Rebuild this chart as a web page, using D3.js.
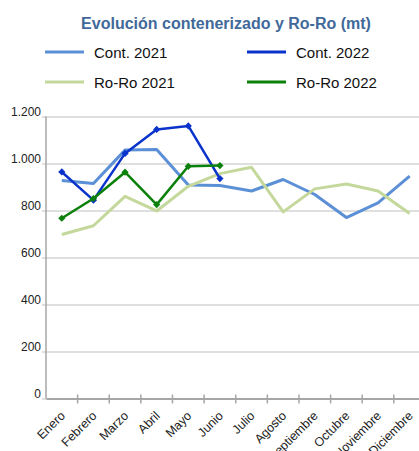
<!DOCTYPE html>
<html>
<head>
<meta charset="utf-8">
<style>
body { margin: 0; padding: 0; background: white; overflow: hidden; }
.tick text { font-family: "Liberation Sans", Arial, sans-serif; font-size: 12px; fill: #222; }
.grid line { stroke: #d4d4d4; stroke-width: 1.5px; }
.grid path { stroke-width: 0; }
</style>
</head>
<body>
<script src="https://cdn.jsdelivr.net/npm/d3@7"></script>
<script>
var months = ["Enero", "Febrero", "Marzo", "Abril", "Mayo", "Junio", "Julio",
    "Agosto", "Septiembre", "Octubre", "Noviembre", "Diciembre"];
var cont2021 = [928, 915, 1057, 1060, 909, 906, 883, 932, 868, 770, 832, 946];
var cont2022 = [964, 844, 1043, 1145, 1160, 936];
var roro2021 = [698, 735, 860, 798, 903, 957, 984, 794, 892, 913, 883, 787];
var roro2022 = [767, 851, 963, 825, 988, 991];
var yTicks = [0, 200, 400, 600, 800, 1000, 1200];

var series = [
    { name: "Cont. 2021", values: cont2021, color: "#5b8fd6", width: 3, marker: false },
    { name: "Ro-Ro 2021", values: roro2021, color: "#c4d89c", width: 3, marker: false },
    { name: "Cont. 2022", values: cont2022, color: "#0a33cc", width: 2.5, marker: true },
    { name: "Ro-Ro 2022", values: roro2022, color: "#0b800b", width: 2.5, marker: true }
];

var W = 419, H = 451;
var plotLeft = 46, plotRight = 46 + 12 * 31.62, plotTop = 116.5, plotBottom = 398.5;

var svg = d3.select("body").append("svg")
    .attr("width", W)
    .attr("height", H);

var x = d3.scaleBand().domain(months).range([plotLeft, plotRight]);
var y = d3.scaleLinear().domain([0, 1200]).range([plotBottom, plotTop]);

var fmt = function(d) { return d3.format(",")(d).replace(/,/g, "."); };

// title
svg.append("text")
    .attr("x", 226)
    .attr("y", 29)
    .attr("text-anchor", "middle")
    .style("font-family", "'Liberation Sans', Arial, sans-serif")
    .style("font-weight", "bold")
    .style("font-size", "16px")
    .style("fill", "#41699a")
    .text("Evolución contenerizado y Ro-Ro (mt)");

// legend
var legendPos = [
    { s: 0, x: 45, y: 52 }, { s: 2, x: 247, y: 52 },
    { s: 1, x: 45, y: 82 }, { s: 3, x: 247, y: 82 }
];
legendPos.forEach(function(p) {
    var s = series[p.s];
    svg.append("line")
        .attr("x1", p.x).attr("x2", p.x + 39)
        .attr("y1", p.y).attr("y2", p.y)
        .attr("stroke", s.color)
        .attr("stroke-width", 3);
    svg.append("text")
        .attr("x", p.x + 49)
        .attr("y", p.y + 5.5)
        .style("font-family", "'Liberation Sans', Arial, sans-serif")
        .style("font-size", "15px")
        .style("fill", "#111")
        .text(s.name);
});

// gridlines + y labels
var yAxis = svg.append("g")
    .attr("class", "grid")
    .attr("transform", "translate(" + plotLeft + ",0)")
    .call(d3.axisLeft(y).tickValues(yTicks).tickSize(4).tickFormat(fmt).tickPadding(1));
yAxis.selectAll(".tick line").attr("x1", -4).attr("x2", W - plotLeft);
yAxis.selectAll(".tick text").attr("dy", "-0.05em");

// y axis line
svg.append("line")
    .attr("x1", plotLeft).attr("x2", plotLeft)
    .attr("y1", plotTop).attr("y2", plotBottom)
    .attr("stroke", "#a6a6a6")
    .attr("stroke-width", 1.5);

// x axis
var xAxis = svg.append("g")
    .attr("transform", "translate(0," + plotBottom + ")")
    .call(d3.axisBottom(x).tickSize(0));
xAxis.select(".domain").attr("stroke", "#a6a6a6").attr("stroke-width", 2);
xAxis.selectAll(".tick text")
    .style("font-size", "12.5px")
    .attr("text-anchor", "end")
    .attr("y", 0)
    .attr("dy", 0)
    .attr("transform", "translate(4,18) rotate(-45)");

// category separator ticks
svg.append("g").selectAll("line")
    .data(months.slice(1))
    .enter().append("line")
    .attr("x1", function(d) { return x(d); })
    .attr("x2", function(d) { return x(d); })
    .attr("y1", plotBottom - 4)
    .attr("y2", plotBottom + 5)
    .attr("stroke", "#a6a6a6")
    .attr("stroke-width", 1.5);

// lines
var line = d3.line()
    .x(function(d, i) { return x(months[i]) + x.bandwidth() / 2; })
    .y(function(d) { return y(d); });

series.forEach(function(s) {
    svg.append("path")
        .datum(s.values)
        .attr("fill", "none")
        .attr("stroke", s.color)
        .attr("stroke-width", s.width)
        .attr("stroke-linejoin", "round")
        .attr("d", line);
    if (s.marker) {
        svg.append("g").selectAll("path")
            .data(s.values)
            .enter().append("path")
            .attr("d", d3.symbol().type(d3.symbolSquare).size(26))
            .attr("transform", function(d, i) {
                return "translate(" + (x(months[i]) + x.bandwidth() / 2) + "," + y(d) + ") rotate(45)";
            })
            .attr("fill", s.color);
    }
});
</script>
</body>
</html>
